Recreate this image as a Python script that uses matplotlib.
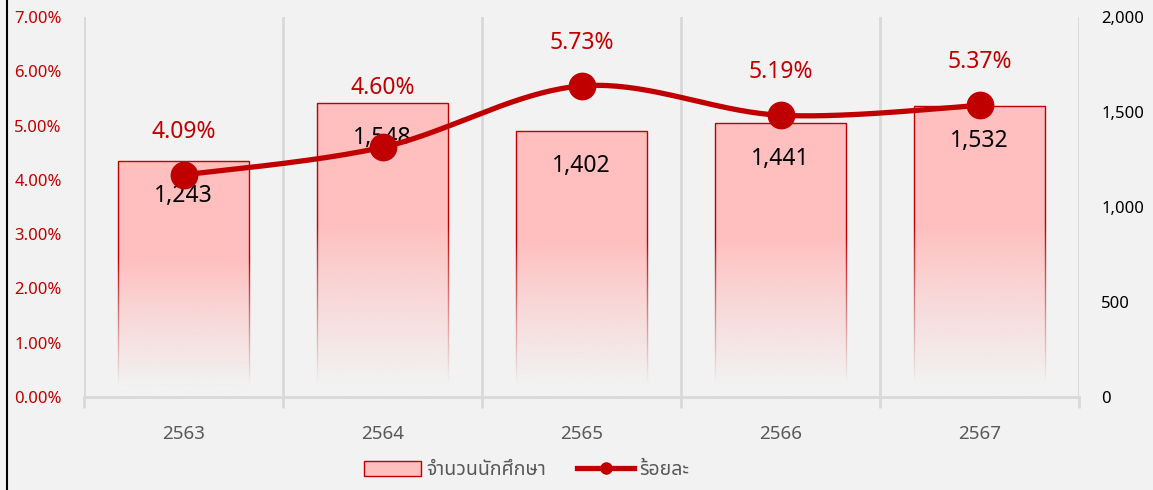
import numpy as np
import matplotlib
matplotlib.use("Agg")
import matplotlib.pyplot as plt
from matplotlib import font_manager
from matplotlib.ft2font import FT2Font
from matplotlib.patches import Patch
from matplotlib.lines import Line2D
from matplotlib.ticker import FuncFormatter, MultipleLocator

years = ["2563", "2564", "2565", "2566", "2567"]
students = [1243, 1548, 1402, 1441, 1532]
percent = [4.09, 4.60, 5.73, 5.19, 5.37]
bar_label = "จำนวนนักศึกษา"
line_label = "ร้อยละ"

RED = "#C00000"
PINK = "#FFBFBF"
BG = "#F2F2F2"
GRID = "#D9D9D9"
GREY = "#595959"


def find_thai_font():
    names = []
    for f in font_manager.fontManager.ttflist:
        try:
            if FT2Font(f.fname).get_char_index(0x0E01):
                names.append(f.name)
        except Exception:
            pass
    for pref in ["Noto Sans Thai", "Noto Sans Thai Looped", "Noto Sans", "Loma", "Garuda", "DejaVu Sans"]:
        if pref in names:
            return pref
    return names[0] if names else "DejaVu Sans"


thai = find_thai_font()
plt.rcParams["font.family"] = ["Noto Sans", thai, "DejaVu Sans"]


def smooth(xs, ys, n=40):
    # catmull-rom style bezier like excel's smoothed line
    xs = np.asarray(xs, float)
    ys = np.asarray(ys, float)
    px = np.concatenate([[xs[0]], xs, [xs[-1]]])
    py = np.concatenate([[ys[0]], ys, [ys[-1]]])
    ox, oy = [], []
    for i in range(1, len(px) - 2):
        p0 = np.array([px[i], py[i]])
        p3 = np.array([px[i + 1], py[i + 1]])
        c1 = p0 + (p3 - np.array([px[i - 1], py[i - 1]])) / 6
        c2 = p3 - (np.array([px[i + 2], py[i + 2]]) - p0) / 6
        t = np.linspace(0, 1, n)[:, None]
        pts = (1 - t) ** 3 * p0 + 3 * (1 - t) ** 2 * t * c1 + 3 * (1 - t) * t ** 2 * c2 + t ** 3 * p3
        ox.extend(pts[:, 0])
        oy.extend(pts[:, 1])
    return ox, oy


fig = plt.figure(figsize=(11.53, 4.9), dpi=100, facecolor=BG)
ax = fig.add_axes([84 / 1153, 1 - 397 / 490, (1079 - 84) / 1153, (397 - 17) / 490])
ax.set_facecolor(BG)
ax2 = ax.twinx()

x = np.arange(len(years))

# bars on the secondary (right) axis, drawn underneath the line
ax.set_zorder(2)
ax.patch.set_visible(False)
ax2.set_zorder(1)
ax2.set_facecolor(BG)

bw = 0.66
bars = ax2.bar(x, students, width=bw, color=PINK, edgecolor=RED, linewidth=1.0, zorder=2)
fade = np.zeros((256, 1, 4))
fade[:, 0, :3] = matplotlib.colors.to_rgb(BG)
hpos = np.linspace(0, 1, 256)  # 0 = top, 1 = bottom
fade[:, 0, 3] = np.clip((hpos - 0.42) / (0.95 - 0.42), 0, 1) ** 0.9
for b in bars:
    h = b.get_height()
    ax2.imshow(fade, extent=[b.get_x() - 0.01, b.get_x() + bw + 0.01, 0, h],
               aspect="auto", zorder=3, interpolation="bilinear")
    ax2.annotate(f"{h:,.0f}", (b.get_x() + bw / 2, h), xytext=(0, -25.5), textcoords="offset points",
                 ha="center", va="center", fontsize=16.5, color="black", zorder=6)

ax2.set_ylim(0, 2000)
ax2.yaxis.set_major_locator(MultipleLocator(500))
ax2.yaxis.set_major_formatter(FuncFormatter(lambda v, p: f"{v:,.0f}"))
ax2.tick_params(axis="y", length=0, pad=16, labelsize=12, labelcolor="black")

sx, sy = smooth(x, percent)
ax.plot(sx, sy, color=RED, linewidth=3.8, solid_capstyle="round", zorder=4)
ax.plot(x, percent, "o", color=RED, markersize=19, zorder=5)
label_offsets = [31, 43, 31, 31, 31]
for xi, p, off in zip(x, percent, label_offsets):
    ax.annotate(f"{p:.2f}%", (xi, p), xytext=(0, off), textcoords="offset points",
                ha="center", va="center", fontsize=16.5, color=RED)

ax.set_ylim(0, 7)
ax.yaxis.set_major_locator(MultipleLocator(1))
ax.yaxis.set_major_formatter(FuncFormatter(lambda v, p: f"{v:.2f}%"))
ax.tick_params(axis="y", length=0, pad=16, labelsize=12, labelcolor=RED)

ax.set_xlim(-0.5, len(years) - 0.5)
ax.set_xticks(x)
ax.set_xticklabels(years)
ax.set_xticks(np.arange(-0.5, len(years)), minor=True)
ax.tick_params(axis="x", which="major", length=0, pad=20, labelsize=13.5, labelcolor=GREY)
ax.tick_params(axis="x", which="minor", length=8, width=2, color=GRID)
for xb in np.arange(-0.5, len(years)):
    ax2.axvline(xb, color=GRID, linewidth=2, zorder=1)

for a in (ax, ax2):
    for s in a.spines.values():
        s.set_visible(False)
ax2.spines["bottom"].set_visible(True)
ax2.spines["bottom"].set_color(GRID)
ax2.spines["bottom"].set_linewidth(2)
ax2.spines["bottom"].set_zorder(4)

handles = [
    Patch(facecolor=PINK, edgecolor=RED, linewidth=1.0),
    Line2D([0], [0], color=RED, linewidth=3.8, marker="o", markersize=8),
]
fig.legend(handles, [bar_label, line_label], loc="center", bbox_to_anchor=(527 / 1153, 1 - 470 / 490),
           ncol=2, frameon=False, labelcolor=GREY, handlelength=2.9, handleheight=0.8,
           handletextpad=0.3, columnspacing=1.6, prop={"family": [thai, "DejaVu Sans"], "size": 14})

fig.add_artist(Line2D([7 / 1153, 7 / 1153], [0, 1], color="black", linewidth=1.5, transform=fig.transFigure))

fig.savefig("out.png", dpi=100, facecolor=BG)
